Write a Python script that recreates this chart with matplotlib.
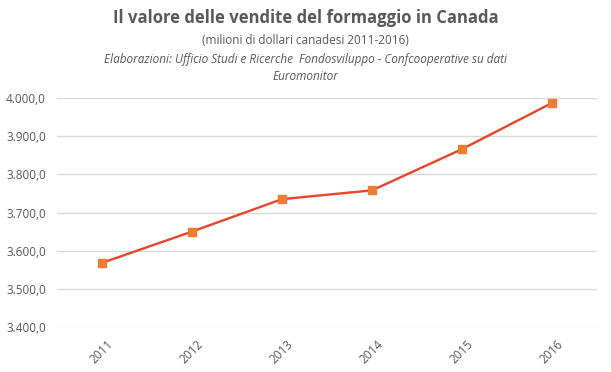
import matplotlib.pyplot as plt
from matplotlib.ticker import FuncFormatter

# data
years = ["2011", "2012", "2013", "2014", "2015", "2016"]
values = [3568, 3650, 3735, 3758, 3866, 3987]

TEXT = "#595959"
LINE = "#E8452A"
MARK = "#ED7D31"
GRID = "#D9D9D9"

plt.rcParams["font.family"] = ["Open Sans", "DejaVu Sans"]

fig = plt.figure(figsize=(6.11, 3.72), dpi=100)
ax = fig.add_axes([57 / 611, 1 - 327 / 372, 540 / 611, (327 - 98) / 372])

x = list(range(len(years)))
ax.plot(x, values, color=LINE, linewidth=1.7, zorder=3)
ax.plot(x, values, linestyle="none", marker="s", markersize=5.5,
        color=MARK, zorder=4)

ax.set_xlim(-0.5, len(years) - 0.5)
ax.set_ylim(3400, 4000)
ax.set_yticks(range(3400, 4001, 100))
ax.yaxis.set_major_formatter(
    FuncFormatter(lambda v, _: f"{v:,.1f}".replace(",", "X").replace(".", ",").replace("X", ".")))
ax.set_xticks(x)
ax.set_xticklabels(years, rotation=45, ha="center", va="top")
ax.tick_params(axis="both", length=0, colors=TEXT, labelsize=8.5)
ax.tick_params(axis="x", pad=8)
ax.tick_params(axis="y", pad=8)
ax.yaxis.grid(True, color=GRID, linewidth=1, zorder=0)
for s in ax.spines.values():
    s.set_visible(False)

fig.text(0.5, 1 - 18 / 372, "Il valore delle vendite del formaggio in Canada",
         ha="center", va="center", fontsize=12, fontweight="bold", color=TEXT)
fig.text(0.5, 1 - 40 / 372, "(milioni di dollari canadesi 2011-2016)",
         ha="center", va="center", fontsize=8.5, color=TEXT)
fig.text(0.5, 1 - 59 / 372,
         "Elaborazioni: Ufficio Studi e Ricerche  Fondosviluppo - Confcooperative su dati",
         ha="center", va="center", fontsize=8.5, style="italic", color=TEXT)
fig.text(0.5, 1 - 76 / 372, "Euromonitor",
         ha="center", va="center", fontsize=8.5, style="italic", color=TEXT)

fig.savefig("out.png", dpi=100, facecolor="white")
